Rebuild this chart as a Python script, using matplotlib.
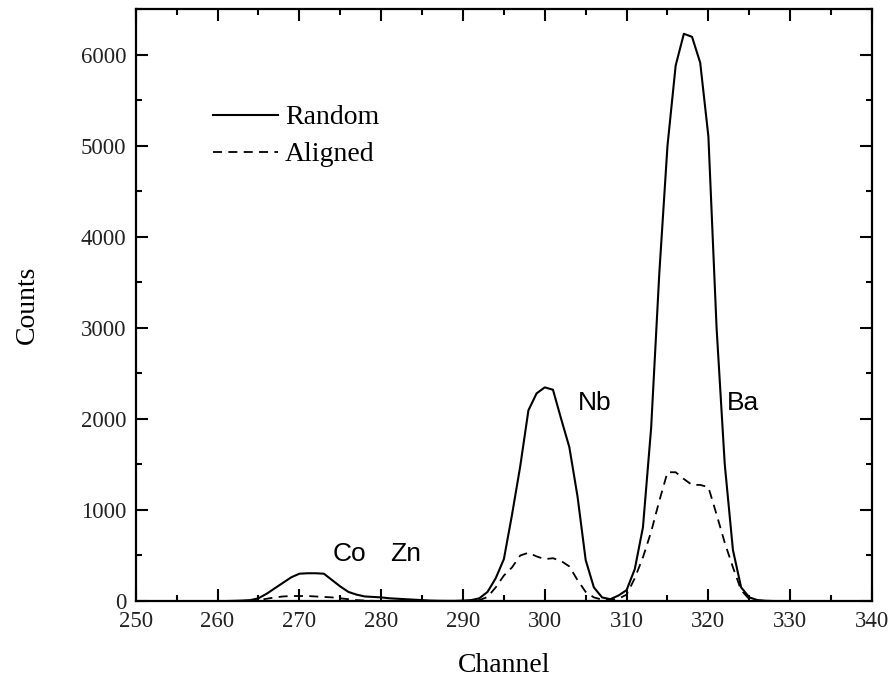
import matplotlib
matplotlib.use("Agg")
import matplotlib.pyplot as plt
import numpy as np

# channel axis and counts for the two spectra
channels = np.arange(260, 331)

random_counts = [
    0, 0, 2, 5, 10, 30, 80, 140, 200, 260,           # 260-269
    300, 305, 305, 300, 230, 160, 100, 70, 50, 45,    # 270-279
    40, 30, 25, 20, 15, 10, 5, 3, 2, 2,               # 280-289
    5, 10, 30, 100, 250, 460, 950, 1480, 2094, 2280,  # 290-299
    2346, 2320, 2000, 1690, 1150, 450, 150, 40, 20, 60,  # 300-309
    120, 350, 810, 1900, 3600, 5000, 5880, 6228, 6195, 5910,  # 310-319
    5100, 3000, 1500, 560, 150, 40, 10, 3, 0, 0,      # 320-329
    0,                                                 # 330
]

aligned_counts = [
    0, 0, 0, 0, 0, 10, 25, 40, 50, 55,                # 260-269
    55, 55, 50, 45, 40, 30, 20, 10, 5, 2,             # 270-279
    0, 0, 0, 0, 0, 0, 0, 0, 0, 0,                     # 280-289
    0, 3, 10, 44, 150, 280, 370, 500, 530, 490,       # 290-299
    460, 470, 440, 380, 230, 100, 40, 15, 10, 25,     # 300-309
    70, 250, 480, 760, 1100, 1414, 1414, 1340, 1275, 1275,  # 310-319
    1250, 950, 640, 370, 120, 20, 5, 0, 0, 0,         # 320-329
    0,                                                 # 330
]

peak_labels = ["Co", "Zn", "Nb", "Ba"]
label_pos = [(274.1, 520), (281.1, 520), (304.0, 2170), (322.3, 2170)]

serif = "Liberation Serif"
plt.rcParams["font.family"] = serif

fig = plt.figure(figsize=(8.93, 6.84), dpi=100)
ax = fig.add_axes([0.152, 0.1213, 0.8245, 0.8655])

ax.plot(channels, random_counts, color="black", lw=1.5, label="Random")
ax.plot(channels, aligned_counts, color="black", lw=1.3,
        linestyle=(0, (5, 3.5)), label="Aligned")

for txt, (x, y) in zip(peak_labels, label_pos):
    ax.text(x, y, txt, family="Liberation Sans", fontsize=19,
            ha="left", va="center")

ax.set_xlim(250, 340)
ax.set_ylim(0, 6500)
ax.set_xticks(np.arange(250, 341, 10))
ax.set_xticks(np.arange(250, 341, 5), minor=True)
ax.set_yticks(np.arange(0, 6001, 1000))
ax.set_yticks(np.arange(0, 6501, 500), minor=True)

ax.tick_params(which="both", direction="in", top=True, right=True,
               width=1.5, labelsize=16.5, labelcolor="#222222")
ax.tick_params(which="major", length=8.5, pad=7)
ax.tick_params(which="minor", length=4.5)
for s in ax.spines.values():
    s.set_linewidth(1.6)

ax.set_xlabel("Channel", fontsize=20, labelpad=15)
ax.set_ylabel("Counts", fontsize=20, labelpad=29)

ax.legend(loc="upper left", bbox_to_anchor=(0.0897, 0.857), frameon=False,
          fontsize=20, handlelength=2.35, handletextpad=0.25,
          labelspacing=0.42, borderaxespad=0)

fig.savefig("out.png", dpi=100)
